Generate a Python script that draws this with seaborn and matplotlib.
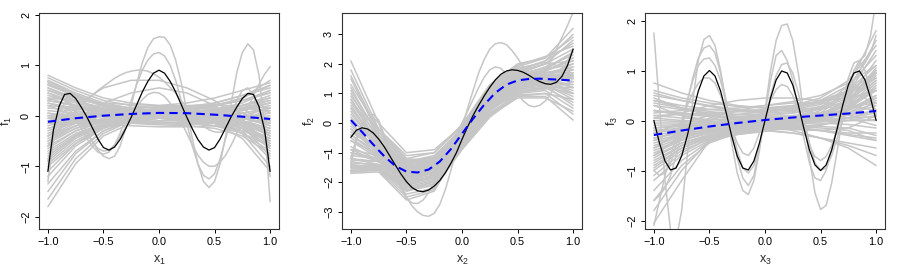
import numpy as np
import pandas as pd
import matplotlib
matplotlib.use('Agg')
import matplotlib.pyplot as plt
import seaborn as sns

# x grids the curves were read on
x9 = [-1.0, -0.75, -0.5, -0.25, 0.0, 0.25, 0.5, 0.75, 1.0]
x21 = [-1.0, -0.9, -0.8, -0.7, -0.6, -0.5, -0.4, -0.3, -0.2, -0.1, 0.0,
       0.1, 0.2, 0.3, 0.4, 0.5, 0.6, 0.7, 0.8, 0.9, 1.0]
x41 = [-1.0, -0.95, -0.9, -0.85, -0.8, -0.75, -0.7, -0.65, -0.6, -0.55, -0.5,
       -0.45, -0.4, -0.35, -0.3, -0.25, -0.2, -0.15, -0.1, -0.05, 0.0,
       0.05, 0.1, 0.15, 0.2, 0.25, 0.3, 0.35, 0.4, 0.45, 0.5,
       0.55, 0.6, 0.65, 0.7, 0.75, 0.8, 0.85, 0.9, 0.95, 1.0]

# ---- panel 1 ----
f1_true = [-1.10, -0.28, 0.18, 0.42, 0.44, 0.34, 0.17, -0.02, -0.24, -0.46, -0.63,
           -0.68, -0.62, -0.47, -0.26, -0.03, 0.22, 0.47, 0.68, 0.84, 0.90,
           0.84, 0.68, 0.47, 0.22, -0.03, -0.26, -0.47, -0.62, -0.68, -0.63,
           -0.46, -0.24, -0.02, 0.17, 0.34, 0.44, 0.42, 0.18, -0.28, -1.10]
f1_mean = [-0.12, -0.05, 0.0, 0.035, 0.055, 0.05, 0.02, -0.02, -0.065]
f1_band = [
    [0.80, 0.55, 0.35, 0.25, 0.20, 0.25, 0.35, 0.50, 0.65],
    [0.70, 0.45, 0.25, 0.15, 0.10, 0.15, 0.25, 0.40, 0.55],
    [0.60, 0.40, 0.20, 0.10, 0.05, 0.05, 0.10, 0.20, 0.30],
    [0.50, 0.35, 0.22, 0.15, 0.10, 0.08, 0.05, 0.00, -0.10],
    [0.40, 0.25, 0.12, 0.05, 0.02, 0.00, -0.05, -0.15, -0.30],
    [0.30, 0.20, 0.10, 0.08, 0.08, 0.10, 0.12, 0.20, 0.35],
    [0.20, 0.15, 0.10, 0.05, 0.00, -0.02, 0.00, 0.05, 0.15],
    [0.10, 0.05, 0.00, 0.00, 0.02, 0.05, 0.10, 0.20, 0.40],
    [0.00, 0.05, 0.08, 0.10, 0.10, 0.10, 0.08, 0.00, -0.20],
    [-0.10, 0.00, 0.10, 0.15, 0.18, 0.18, 0.15, 0.05, -0.15],
    [-0.20, -0.05, 0.05, 0.10, 0.12, 0.12, 0.08, 0.00, -0.10],
    [-0.30, -0.10, 0.00, 0.05, 0.05, 0.05, 0.05, 0.10, 0.20],
    [-0.40, -0.15, 0.00, 0.08, 0.10, 0.10, 0.05, -0.10, -0.40],
    [-0.50, -0.25, -0.10, 0.00, 0.05, 0.05, 0.00, -0.15, -0.50],
    [-0.60, -0.30, -0.10, 0.00, 0.00, -0.02, -0.05, -0.05, 0.00],
    [-0.70, -0.35, -0.15, -0.05, -0.02, -0.05, -0.15, -0.35, -0.70],
    [-0.80, -0.40, -0.15, 0.00, 0.05, 0.05, 0.00, -0.10, -0.25],
    [-0.90, -0.45, -0.20, -0.08, -0.05, -0.05, -0.10, -0.25, -0.60],
    [-1.00, -0.55, -0.25, -0.10, -0.05, -0.05, -0.10, -0.30, -0.85],
    [-1.20, -0.60, -0.25, -0.05, 0.05, 0.10, 0.05, -0.15, -0.55],
    [-1.35, -0.70, -0.30, -0.10, 0.00, 0.00, -0.05, -0.20, -0.45],
    [-1.50, -0.75, -0.30, -0.08, 0.00, 0.05, 0.10, 0.20, 0.35],
    [-1.65, -0.85, -0.35, -0.10, 0.00, 0.00, -0.10, -0.35, -1.00],
    [-1.80, -0.95, -0.40, -0.15, -0.05, -0.05, -0.15, -0.45, -1.10],
    [0.65, 0.40, 0.20, 0.05, -0.05, -0.12, -0.20, -0.35, -0.60],
    [0.45, 0.20, 0.00, -0.10, -0.15, -0.15, -0.12, -0.05, 0.05],
    [0.20, 0.00, -0.10, -0.15, -0.18, -0.20, -0.25, -0.40, -0.75],
    [-0.25, -0.15, -0.10, -0.10, -0.12, -0.15, -0.20, -0.30, -0.45],
    [0.05, -0.05, -0.10, -0.12, -0.15, -0.18, -0.15, -0.05, 0.10],
    [-0.50, -0.20, -0.05, 0.05, 0.10, 0.15, 0.20, 0.30, 0.50],
    [0.35, 0.30, 0.25, 0.22, 0.20, 0.20, 0.22, 0.30, 0.45],
    [-0.05, -0.10, -0.15, -0.20, -0.22, -0.22, -0.20, -0.15, -0.05],
    [0.55, 0.35, 0.20, 0.10, 0.08, 0.10, 0.20, 0.35, 0.70],
    [-1.10, -0.55, -0.20, -0.02, 0.05, 0.08, 0.05, 0.00, -0.05],
    [0.25, 0.10, 0.00, -0.05, -0.05, -0.02, 0.00, -0.10, -0.35],
    [-0.60, 0.20, 0.55, 0.70, 0.70, 0.55, 0.30, -0.10, -0.60],
    [-0.40, -0.05, 0.25, 0.45, 0.55, 0.45, 0.20, -0.20, -0.80],
    [0.75, 0.50, 0.30, 0.20, 0.15, 0.15, 0.20, 0.30, 0.45],
    [0.68, 0.42, 0.22, 0.12, 0.08, 0.10, 0.18, 0.35, 0.60],
    [0.55, 0.30, 0.12, 0.02, -0.02, 0.00, 0.05, 0.15, 0.30],
    [0.45, 0.28, 0.15, 0.08, 0.05, 0.05, 0.08, 0.15, 0.25],
    [0.35, 0.18, 0.05, -0.02, -0.05, -0.05, -0.02, 0.05, 0.15],
    [0.25, 0.15, 0.08, 0.05, 0.05, 0.08, 0.12, 0.25, 0.50],
    [0.15, 0.12, 0.10, 0.10, 0.10, 0.08, 0.02, -0.10, -0.30],
    [0.05, 0.00, -0.02, 0.00, 0.02, 0.02, 0.00, -0.05, -0.15],
    [-0.05, 0.02, 0.05, 0.05, 0.05, 0.02, -0.02, -0.10, -0.25],
    [-0.15, -0.05, 0.02, 0.05, 0.05, 0.05, 0.05, 0.10, 0.25],
    [-0.25, -0.08, 0.02, 0.08, 0.12, 0.15, 0.15, 0.15, 0.10],
    [-0.35, -0.12, 0.02, 0.10, 0.15, 0.18, 0.20, 0.20, 0.15],
    [-0.45, -0.20, -0.05, 0.02, 0.05, 0.05, 0.02, -0.05, -0.20],
    [-0.55, -0.25, -0.08, 0.00, 0.02, 0.00, -0.05, -0.20, -0.55],
    [-0.65, -0.30, -0.12, -0.02, 0.02, 0.05, 0.05, 0.00, -0.10],
    [-0.75, -0.38, -0.15, -0.05, -0.02, -0.02, -0.08, -0.25, -0.65],
    [-0.85, -0.42, -0.18, -0.08, -0.05, -0.08, -0.15, -0.30, -0.50],
    [-0.95, -0.50, -0.22, -0.08, -0.02, 0.00, 0.00, -0.05, -0.15],
    [0.50, 0.30, 0.15, 0.05, 0.00, -0.02, -0.05, -0.15, -0.40],
    [0.00, -0.08, -0.12, -0.12, -0.10, -0.10, -0.12, -0.20, -0.35],
    [-0.15, -0.15, -0.15, -0.15, -0.15, -0.12, -0.08, 0.00, 0.15],
    [0.62, 0.38, 0.18, 0.08, 0.03, 0.02, 0.05, 0.12, 0.25],
    [-0.40, -0.20, -0.10, -0.05, -0.05, -0.08, -0.12, -0.25, -0.45],
    [0.30, 0.20, 0.12, 0.10, 0.12, 0.18, 0.25, 0.40, 0.60],
]
f1_wiggly = [
    [-1.30, -0.50, 0.05, 0.25, 0.25, 0.10, -0.10, -0.30, -0.50, -0.68, -0.80,
     -0.85, -0.80, -0.60, -0.25, 0.20, 0.65, 1.05, 1.35, 1.52, 1.56,
     1.55, 1.40, 1.10, 0.65, 0.10, -0.45, -0.95, -1.30, -1.42, -1.30,
     -0.95, -0.40, 0.25, 0.85, 1.25, 1.42, 1.30, 0.80, -0.20, -1.70],
    [-0.90, -0.40, -0.05, 0.10, 0.10, -0.05, -0.25, -0.45, -0.60, -0.72, -0.76,
     -0.72, -0.58, -0.35, -0.05, 0.30, 0.62, 0.90, 1.10, 1.22, 1.25,
     1.18, 1.00, 0.70, 0.30, -0.15, -0.60, -0.95, -1.18, -1.25, -1.15,
     -0.85, -0.45, -0.05, 0.30, 0.50, 0.55, 0.40, 0.10, -0.40, -1.20],
    [-0.60, -0.45, -0.30, -0.15, -0.02, 0.10, 0.20, 0.30, 0.40, 0.50, 0.58,
     0.66, 0.74, 0.80, 0.85, 0.88, 0.90, 0.90, 0.88, 0.83, 0.76,
     0.67, 0.56, 0.44, 0.30, 0.16, 0.02, -0.10, -0.20, -0.28, -0.32,
     -0.33, -0.30, -0.25, -0.18, -0.10, -0.02, 0.05, 0.10, 0.10, 0.05],
    [0.30, 0.35, 0.35, 0.30, 0.20, 0.05, -0.15, -0.35, -0.52, -0.65, -0.70,
     -0.68, -0.58, -0.42, -0.22, 0.00, 0.18, 0.32, 0.42, 0.46, 0.45,
     0.38, 0.25, 0.08, -0.12, -0.35, -0.58, -0.78, -0.92, -1.00, -1.00,
     -0.92, -0.78, -0.58, -0.35, -0.10, 0.15, 0.40, 0.62, 0.82, 0.97],
]

# ---- panel 2 ----
f2_true = [-0.48, -0.24, -0.16, -0.20, -0.33, -0.54, -0.80, -1.11, -1.42, -1.72, -1.98,
           -2.18, -2.29, -2.32, -2.26, -2.13, -1.94, -1.68, -1.36, -1.00, -0.55,
           -0.13, 0.26, 0.60, 0.92, 1.21, 1.46, 1.65, 1.76, 1.80, 1.78,
           1.72, 1.62, 1.50, 1.40, 1.33, 1.31, 1.38, 1.58, 1.95, 2.50]
f2_mean = [0.10, -0.30, -0.72, -1.12, -1.45, -1.64, -1.67, -1.57, -1.30, -0.88, -0.36,
           0.15, 0.62, 1.02, 1.30, 1.44, 1.49, 1.50, 1.48, 1.46, 1.44]
f2_band = [
    [2.10, 0.00, -1.00, -0.90, -0.10, 1.20, 1.90, 2.20, 3.20],
    [1.80, -0.20, -1.20, -1.00, -0.05, 1.30, 2.00, 2.20, 2.90],
    [1.50, -0.40, -1.30, -1.10, -0.20, 1.10, 1.80, 2.10, 2.70],
    [1.20, -0.50, -1.40, -1.20, -0.25, 1.00, 1.70, 2.00, 2.50],
    [1.00, -0.60, -1.50, -1.30, -0.30, 0.90, 1.60, 1.90, 2.30],
    [0.80, -0.70, -1.50, -1.30, -0.35, 0.85, 1.50, 1.80, 2.10],
    [0.60, -0.80, -1.60, -1.40, -0.40, 0.80, 1.45, 1.70, 1.90],
    [0.40, -0.85, -1.65, -1.45, -0.40, 0.75, 1.40, 1.60, 1.70],
    [0.20, -0.90, -1.70, -1.50, -0.45, 0.70, 1.35, 1.55, 1.50],
    [0.00, -1.00, -1.75, -1.55, -0.50, 0.65, 1.30, 1.45, 1.30],
    [-0.20, -1.05, -1.80, -1.60, -0.55, 0.60, 1.25, 1.40, 1.10],
    [-0.40, -1.10, -1.85, -1.65, -0.60, 0.55, 1.20, 1.30, 0.90],
    [-0.60, -1.20, -1.90, -1.70, -0.65, 0.50, 1.10, 1.20, 0.70],
    [-0.80, -1.25, -2.00, -1.80, -0.70, 0.45, 1.00, 1.10, 0.50],
    [-1.00, -1.30, -2.10, -1.90, -0.75, 0.35, 0.95, 1.00, 0.30],
    [-1.20, -1.40, -2.20, -2.00, -0.80, 0.30, 0.90, 0.90, 0.10],
    [-1.40, -1.50, -2.30, -2.10, -0.85, 0.25, 0.85, 0.85, 0.40],
    [-1.50, -1.55, -2.40, -2.20, -0.90, 0.20, 0.90, 1.00, 0.80],
    [-1.60, -1.60, -2.50, -2.25, -0.80, 0.30, 1.00, 1.20, 1.20],
    [-1.70, -1.65, -2.60, -2.30, -0.70, 0.40, 1.10, 1.40, 1.60],
    [-1.45, -1.45, -2.30, -1.95, -0.60, 0.60, 1.30, 1.60, 2.00],
    [-1.55, -1.50, -2.10, -1.75, -0.45, 0.80, 1.50, 1.80, 2.40],
    [-1.65, -1.55, -2.00, -1.60, -0.35, 0.95, 1.65, 2.00, 2.80],
    [-1.35, -1.40, -1.80, -1.50, -0.30, 1.00, 1.75, 2.10, 3.00],
    [0.90, -0.30, -1.20, -1.30, -0.50, 0.70, 1.50, 1.60, 1.20],
    [0.50, -0.60, -1.40, -1.45, -0.55, 0.60, 1.40, 1.50, 1.00],
    [-0.30, -0.90, -1.45, -1.25, -0.20, 1.05, 1.75, 2.00, 2.10],
    [0.10, -0.70, -1.35, -1.15, -0.15, 1.15, 1.85, 2.05, 1.80],
    [-0.90, -1.10, -1.60, -1.40, -0.40, 0.80, 1.45, 1.65, 1.50],
    [-1.10, -1.20, -1.70, -1.60, -0.55, 0.70, 1.35, 1.55, 1.40],
    [1.30, -0.20, -1.10, -1.00, -0.10, 1.25, 1.95, 2.25, 2.60],
    [-1.25, -1.30, -1.95, -1.85, -0.65, 0.55, 1.20, 1.45, 1.80],
    [1.10, -0.40, -1.30, -1.15, -0.20, 1.00, 1.60, 1.80, 2.00],
    [0.70, -0.65, -1.45, -1.25, -0.25, 0.95, 1.55, 1.70, 1.80],
    [0.30, -0.80, -1.55, -1.35, -0.30, 0.90, 1.50, 1.60, 1.60],
    [-0.10, -0.95, -1.65, -1.45, -0.35, 0.85, 1.45, 1.55, 1.40],
    [-0.50, -1.15, -1.75, -1.55, -0.45, 0.75, 1.35, 1.45, 1.20],
    [-0.90, -1.30, -1.85, -1.65, -0.55, 0.65, 1.25, 1.35, 1.00],
    [-1.30, -1.45, -1.95, -1.75, -0.60, 0.60, 1.20, 1.30, 0.80],
    [-1.50, -1.50, -2.05, -1.85, -0.65, 0.55, 1.15, 1.25, 0.60],
    [-1.60, -1.55, -2.15, -1.95, -0.70, 0.50, 1.10, 1.20, 1.00],
    [-1.65, -1.60, -2.25, -2.05, -0.75, 0.45, 1.05, 1.15, 1.40],
    [-1.45, -1.45, -1.90, -1.60, -0.45, 0.75, 1.40, 1.60, 1.90],
    [-1.20, -1.30, -1.75, -1.45, -0.35, 0.85, 1.50, 1.75, 2.20],
    [0.50, -0.75, -1.50, -1.40, -0.45, 0.75, 1.40, 1.55, 1.65],
    [0.00, -0.95, -1.60, -1.35, -0.25, 0.95, 1.60, 1.65, 1.50],
    [-0.60, -1.05, -1.55, -1.30, -0.25, 0.95, 1.55, 1.60, 1.60],
    [1.60, -0.30, -1.25, -1.20, -0.30, 0.95, 1.65, 1.85, 2.40],
    [-0.20, -0.90, -1.50, -1.30, -0.30, 0.90, 1.55, 1.70, 1.70],
    [-1.00, -1.20, -1.80, -1.70, -0.60, 0.60, 1.25, 1.40, 1.30],
    [0.80, -0.50, -1.35, -1.25, -0.30, 0.90, 1.55, 1.75, 2.20],
    [-0.40, -1.00, -1.60, -1.50, -0.50, 0.75, 1.35, 1.50, 1.55],
]
f2_wiggly = [
    [-1.20, -0.50, 0.00, 0.25, 0.30, 0.10, -0.40, -1.00, -1.60, -2.10, -2.50,
     -2.80, -3.00, -3.12, -3.15, -3.05, -2.75, -2.25, -1.60, -0.90, -0.20,
     0.50, 1.10, 1.70, 2.15, 2.50, 2.68, 2.72, 2.65, 2.45, 2.20,
     1.90, 1.65, 1.55, 1.60, 1.80, 2.10, 2.50, 2.90, 3.30, 3.75],
    [-1.40, -0.60, -0.10, 0.15, 0.20, 0.00, -0.50, -1.10, -1.70, -2.20, -2.55,
     -2.70, -2.72, -2.60, -2.35, -2.00, -1.60, -1.20, -0.80, -0.40, 0.00,
     0.40, 0.80, 1.20, 1.55, 1.80, 1.90, 1.85, 1.65, 1.35, 1.00,
     0.75, 0.60, 0.55, 0.60, 0.75, 1.00, 1.35, 1.70, 2.10, 2.50],
]

# ---- panel 3 ----
f3_true = [0.00, -0.45, -0.81, -0.99, -0.95, -0.71, -0.31, 0.16, 0.59, 0.89, 1.00,
           0.89, 0.59, 0.16, -0.31, -0.71, -0.95, -0.99, -0.81, -0.45, 0.00,
           0.45, 0.81, 0.99, 0.95, 0.71, 0.31, -0.16, -0.59, -0.89, -1.00,
           -0.89, -0.59, -0.16, 0.31, 0.71, 0.95, 0.99, 0.81, 0.45, 0.00]
f3_mean = [-0.29, -0.20, -0.12, -0.05, 0.01, 0.06, 0.10, 0.14, 0.19]
f3_band = [
    [0.75, 0.55, 0.40, 0.30, 0.25, 0.30, 0.45, 0.80, 1.50],
    [0.60, 0.45, 0.35, 0.28, 0.25, 0.28, 0.40, 0.70, 1.30],
    [0.50, 0.40, 0.30, 0.22, 0.20, 0.25, 0.35, 0.60, 1.10],
    [0.40, 0.30, 0.22, 0.18, 0.15, 0.18, 0.28, 0.50, 0.95],
    [0.30, 0.22, 0.15, 0.12, 0.10, 0.15, 0.22, 0.40, 0.80],
    [0.20, 0.15, 0.10, 0.08, 0.08, 0.10, 0.15, 0.30, 0.60],
    [0.10, 0.05, 0.02, 0.02, 0.03, 0.05, 0.10, 0.20, 0.45],
    [0.00, -0.02, -0.02, -0.02, 0.00, 0.02, 0.05, 0.12, 0.30],
    [-0.10, -0.08, -0.06, -0.05, -0.03, 0.00, 0.02, 0.05, 0.15],
    [-0.20, -0.15, -0.10, -0.08, -0.05, -0.03, 0.00, 0.00, 0.00],
    [-0.30, -0.20, -0.15, -0.10, -0.08, -0.06, -0.05, -0.08, -0.15],
    [-0.40, -0.28, -0.18, -0.12, -0.10, -0.10, -0.12, -0.15, -0.30],
    [-0.50, -0.32, -0.22, -0.15, -0.12, -0.12, -0.15, -0.20, -0.40],
    [-0.60, -0.38, -0.25, -0.18, -0.15, -0.15, -0.20, -0.25, -0.25],
    [-0.70, -0.45, -0.30, -0.22, -0.18, -0.18, -0.20, -0.15, 0.10],
    [-0.80, -0.50, -0.32, -0.25, -0.20, -0.15, -0.10, 0.05, 0.40],
    [-0.90, -0.55, -0.35, -0.25, -0.20, -0.12, 0.00, 0.20, 0.70],
    [-1.00, -0.60, -0.38, -0.28, -0.22, -0.10, 0.05, 0.35, 0.90],
    [-1.20, -0.70, -0.40, -0.28, -0.20, -0.08, 0.10, 0.45, 1.20],
    [-1.40, -0.80, -0.42, -0.25, -0.15, -0.05, 0.15, 0.55, 1.40],
    [-1.60, -0.90, -0.45, -0.25, -0.15, -0.05, 0.10, 0.40, 1.00],
    [-1.80, -1.00, -0.40, -0.20, -0.10, 0.00, 0.20, 0.60, 1.60],
    [-2.05, -1.20, -0.40, -0.15, -0.05, 0.05, 0.25, 0.70, 1.80],
    [0.30, 0.10, -0.05, -0.15, -0.20, -0.25, -0.35, -0.50, -0.70],
    [0.45, 0.25, 0.10, 0.00, -0.10, -0.20, -0.35, -0.55, -0.90],
    [-0.25, -0.05, 0.10, 0.18, 0.20, 0.20, 0.15, 0.05, -0.10],
    [-0.55, -0.20, 0.05, 0.20, 0.30, 0.35, 0.35, 0.30, 0.20],
    [0.15, 0.20, 0.22, 0.25, 0.30, 0.38, 0.50, 0.75, 1.10],
    [-0.35, -0.25, -0.20, -0.18, -0.20, -0.25, -0.35, -0.45, -0.55],
    [0.05, 0.15, 0.30, 0.40, 0.45, 0.45, 0.40, 0.45, 0.60],
    [-0.70, -0.30, -0.05, 0.05, 0.05, 0.05, 0.10, 0.30, 0.80],
    [-0.15, -0.10, -0.05, 0.05, 0.15, 0.25, 0.40, 0.60, 0.95],
    [0.55, 0.40, 0.28, 0.20, 0.18, 0.22, 0.32, 0.55, 1.00],
    [0.35, 0.25, 0.18, 0.12, 0.12, 0.15, 0.25, 0.45, 0.85],
    [0.20, 0.12, 0.08, 0.05, 0.05, 0.08, 0.15, 0.30, 0.65],
    [0.05, 0.00, -0.02, -0.02, 0.00, 0.05, 0.10, 0.22, 0.50],
    [-0.05, -0.05, -0.05, -0.03, 0.00, 0.03, 0.08, 0.15, 0.35],
    [-0.15, -0.12, -0.08, -0.05, -0.02, 0.00, 0.05, 0.10, 0.20],
    [-0.25, -0.18, -0.12, -0.08, -0.05, -0.02, 0.02, 0.05, 0.08],
    [-0.35, -0.22, -0.15, -0.10, -0.06, -0.04, -0.02, 0.00, 0.02],
    [-0.45, -0.30, -0.20, -0.12, -0.08, -0.05, -0.02, 0.05, 0.20],
    [-0.55, -0.35, -0.22, -0.15, -0.10, -0.05, 0.02, 0.15, 0.45],
    [-0.65, -0.40, -0.25, -0.15, -0.08, -0.02, 0.08, 0.25, 0.60],
    [-0.75, -0.45, -0.28, -0.18, -0.12, -0.05, 0.05, 0.20, 0.50],
    [-0.85, -0.50, -0.30, -0.20, -0.12, -0.05, 0.05, 0.25, 0.75],
    [-0.95, -0.55, -0.32, -0.20, -0.12, -0.03, 0.10, 0.35, 0.95],
    [0.40, 0.25, 0.12, 0.02, -0.05, -0.12, -0.20, -0.30, -0.40],
    [0.20, 0.10, 0.00, -0.08, -0.12, -0.15, -0.20, -0.28, -0.35],
    [-0.40, -0.15, 0.02, 0.12, 0.18, 0.22, 0.25, 0.28, 0.35],
    [0.10, 0.12, 0.15, 0.18, 0.22, 0.28, 0.38, 0.55, 0.85],
    [-0.20, -0.18, -0.18, -0.18, -0.15, -0.12, -0.08, 0.00, 0.10],
    [-1.10, -0.65, -0.35, -0.20, -0.12, -0.02, 0.12, 0.40, 1.05],
]
f3_wiggly = [
    [1.75, 0.30, -1.20, -2.20, -2.40, -1.80, -0.70, 0.40, 1.20, 1.62, 1.70,
     1.50, 1.00, 0.30, -0.45, -1.05, -1.40, -1.48, -1.20, -0.60, 0.20,
     1.00, 1.60, 1.90, 1.93, 1.60, 0.95, 0.10, -0.75, -1.45, -1.78,
     -1.70, -1.25, -0.60, 0.10, 0.60, 1.00, 1.20, 1.30, 1.70, 2.40],
    [-1.60, -1.50, -1.35, -1.10, -0.70, -0.20, 0.35, 0.85, 1.25, 1.45, 1.50,
     1.35, 0.95, 0.40, -0.20, -0.75, -1.15, -1.30, -1.10, -0.55, 0.15,
     0.80, 1.30, 1.40, 1.20, 0.80, 0.25, -0.35, -0.85, -1.15, -1.20,
     -1.00, -0.60, -0.10, 0.40, 0.85, 1.15, 1.20, 1.00, 0.60, 0.10],
    [-1.00, -1.10, -1.05, -0.85, -0.50, -0.05, 0.40, 0.80, 1.10, 1.23, 1.25,
     1.10, 0.80, 0.35, -0.15, -0.60, -0.95, -1.05, -0.90, -0.50, 0.00,
     0.50, 0.90, 1.12, 1.15, 0.95, 0.55, 0.05, -0.45, -0.85, -1.00,
     -0.95, -0.70, -0.35, 0.00, 0.30, 0.45, 0.50, 0.45, 0.35, 0.20],
    [-2.10, -1.60, -1.10, -0.70, -0.35, 0.00, 0.30, 0.55, 0.75, 0.85, 0.85,
     0.75, 0.50, 0.20, -0.15, -0.45, -0.65, -0.70, -0.55, -0.25, 0.10,
     0.40, 0.62, 0.72, 0.68, 0.50, 0.20, -0.15, -0.50, -0.72, -0.80,
     -0.72, -0.50, -0.20, 0.15, 0.50, 0.80, 1.00, 1.15, 1.35, 1.70],
]


def long_table(xs, curves, start=0):
    rows = []
    for i, c in enumerate(curves):
        for x, y in zip(xs, c):
            rows.append((start + i, x, y))
    return pd.DataFrame(rows, columns=['curve', 'x', 'f'])


panels = [
    dict(band=f1_band, wig=f1_wiggly, true=f1_true, mean=f1_mean, mean_x=x9,
         ylim=(-2.24, 2.03), yticks=[-2, -1, 0, 1, 2], xl=r'$\mathregular{x_1}$', yl=r'$\mathregular{f_1}$'),
    dict(band=f2_band, wig=f2_wiggly, true=f2_true, mean=f2_mean, mean_x=x21,
         ylim=(-3.58, 3.72), yticks=[-3, -2, -1, 0, 1, 2, 3], xl=r'$\mathregular{x_2}$', yl=r'$\mathregular{f_2}$'),
    dict(band=f3_band, wig=f3_wiggly, true=f3_true, mean=f3_mean, mean_x=x9,
         ylim=(-2.17, 2.15), yticks=[-2, -1, 0, 1, 2], xl=r'$\mathregular{x_3}$', yl=r'$\mathregular{f_3}$'),
]

sns.set_style('ticks')
plt.rcParams['font.family'] = ['Liberation Sans', 'DejaVu Sans']
plt.rcParams['mathtext.fontset'] = 'custom'
plt.rcParams['mathtext.rm'] = 'Liberation Sans'

fig = plt.figure(figsize=(8.99, 2.73), dpi=100)
lefts = [39 / 899, 342 / 899, 645 / 899]
for p, left in zip(panels, lefts):
    ax = fig.add_axes([left, 44 / 273, 240 / 899, 216 / 273])
    gray = pd.concat([long_table(x9, p['band']), long_table(x41, p['wig'], start=500)])
    sns.lineplot(data=gray, x='x', y='f', units='curve', estimator=None,
                 color='#C6C6C6', lw=1.1, ax=ax, legend=False)
    sns.lineplot(x=x41, y=p['true'], color='black', lw=0.9, ax=ax)
    sns.lineplot(x=p['mean_x'], y=p['mean'], color='#0000FF', lw=1.5, ax=ax)
    ax.lines[-1].set_dashes((4, 2.5))
    ax.set_xlim(-1.08, 1.08)
    ax.set_ylim(*p['ylim'])
    ax.set_xticks([-1.0, -0.5, 0.0, 0.5, 1.0])
    ax.set_xticklabels(['\u22121.0', '\u22120.5', '0.0', '0.5', '1.0'])
    ax.set_yticks(p['yticks'])
    ax.set_yticklabels([str(t).replace('-', '\u2212') for t in p['yticks']],
                       rotation=90, va='center')
    ax.tick_params(direction='out', length=3.2, width=0.7, labelsize=7.8, pad=2.5, colors='black')
    for s in ax.spines.values():
        s.set_visible(True)
        s.set_color('#333333')
        s.set_linewidth(0.8)
    ax.set_xlabel(p['xl'], fontsize=9)
    ax.set_ylabel(p['yl'], fontsize=9)
    ax.xaxis.set_label_coords(0.5, -0.115)
    ax.yaxis.set_label_coords(-0.105, 0.5)

fig.savefig('out.png', dpi=100)
